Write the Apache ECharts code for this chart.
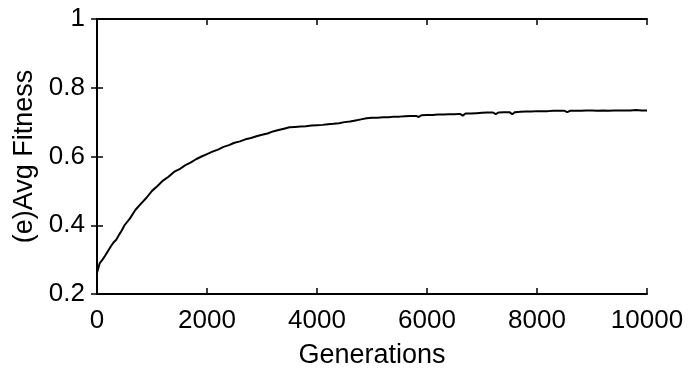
<!DOCTYPE html>
<html>
<head>
<meta charset="utf-8">
<script src="https://cdn.jsdelivr.net/npm/echarts@6/dist/echarts.min.js"></script>
<style>
  html, body { margin: 0; padding: 0; background: #fff; }
  #chart { width: 690px; height: 374px; }
</style>
</head>
<body>
<div id="chart"></div>
<script>
// generation vs. average fitness
const generations = [
  0, 50, 100, 150, 200, 250, 300, 350, 400, 450, 500, 600, 700, 800, 900, 1000,
  1100, 1200, 1300, 1400, 1500, 1600, 1700, 1800, 1900, 2000, 2100, 2200, 2300,
  2400, 2500, 2600, 2700, 2800, 2900, 3000, 3100, 3200, 3300, 3400, 3500, 3600,
  3700, 3800, 3900, 4000, 4100, 4200, 4300, 4400, 4500, 4600, 4700, 4800, 4900,
  5000, 5100, 5200, 5300, 5400, 5500, 5600, 5700, 5800, 5850, 5900, 6000, 6100,
  6200, 6300, 6400, 6500, 6600, 6650, 6700, 6800, 6900, 7000, 7100, 7200, 7250,
  7300, 7400, 7500, 7550, 7600, 7700, 7800, 7900, 8000, 8100, 8200, 8300, 8400,
  8500, 8550, 8600, 8700, 8800, 8900, 9000, 9100, 9200, 9300, 9400, 9500, 9600,
  9700, 9800, 9900, 10000
]
const avgFitness = [
  0.262, 0.290, 0.300, 0.312, 0.325, 0.338, 0.350, 0.358, 0.372, 0.385, 0.400,
  0.420, 0.445, 0.463, 0.480, 0.500, 0.514, 0.530, 0.541, 0.555, 0.563, 0.574,
  0.582, 0.592, 0.600, 0.607, 0.614, 0.620, 0.628, 0.633, 0.640, 0.644, 0.650,
  0.654, 0.659, 0.663, 0.667, 0.673, 0.677, 0.681, 0.685, 0.686, 0.687, 0.688,
  0.690, 0.691, 0.692, 0.694, 0.695, 0.697, 0.700, 0.702, 0.705, 0.708, 0.711,
  0.713, 0.713, 0.714, 0.714, 0.716, 0.716, 0.717, 0.718, 0.718, 0.715, 0.720,
  0.721, 0.721, 0.722, 0.722, 0.723, 0.723, 0.724, 0.719, 0.725, 0.725, 0.726,
  0.727, 0.728, 0.728, 0.723, 0.728, 0.729, 0.729, 0.723, 0.729, 0.730, 0.731,
  0.731, 0.732, 0.732, 0.732, 0.733, 0.733, 0.733, 0.729, 0.733, 0.733, 0.733,
  0.734, 0.734, 0.733, 0.734, 0.733, 0.734, 0.734, 0.734, 0.734, 0.735, 0.734,
  0.734
]
const xTicks = [0, 2000, 4000, 6000, 8000, 10000]
const yTicks = [0.2, 0.4, 0.6, 0.8, 1]

const font = 'Liberation Sans, Arial, sans-serif'
const boxLine = { show: true, lineStyle: { color: '#000', width: 2 } }
const inTick = { show: true, inside: true, length: 6, lineStyle: { color: '#000', width: 1.5 } }

const chart = echarts.init(document.getElementById('chart'))

chart.setOption({
  animation: false,
  grid: { left: 97, right: 43, top: 19, bottom: 75 },
  xAxis: [
    {
      type: 'value',
      min: xTicks[0],
      max: xTicks[xTicks.length - 1],
      interval: 2000,
      name: 'Generations',
      nameLocation: 'middle',
      nameGap: 48,
      nameTextStyle: { fontFamily: font, fontSize: 27, color: '#000' },
      axisLine: boxLine,
      axisTick: inTick,
      splitLine: { show: false },
      axisLabel: {
        margin: 14,
        fontFamily: font,
        fontSize: 26,
        color: '#000',
        formatter: (v) => String(v)
      }
    },
    {
      type: 'value',
      position: 'top',
      min: xTicks[0],
      max: xTicks[xTicks.length - 1],
      interval: 2000,
      axisLine: boxLine,
      axisTick: inTick,
      splitLine: { show: false },
      axisLabel: { show: false }
    }
  ],
  yAxis: [
    {
      type: 'value',
      min: yTicks[0],
      max: yTicks[yTicks.length - 1],
      interval: 0.2,
      name: '(e)Avg Fitness',
      nameLocation: 'middle',
      nameGap: 58,
      nameRotate: 90,
      nameTextStyle: { fontFamily: font, fontSize: 27, color: '#000' },
      axisLine: boxLine,
      axisTick: inTick,
      splitLine: { show: false },
      axisLabel: {
        margin: 12,
        fontFamily: font,
        fontSize: 26,
        color: '#000',
        formatter: (v) => String(parseFloat(v.toFixed(1)))
      }
    },
    {
      type: 'value',
      position: 'right',
      min: yTicks[0],
      max: yTicks[yTicks.length - 1],
      interval: 0.2,
      axisLine: boxLine,
      axisTick: inTick,
      splitLine: { show: false },
      axisLabel: { show: false }
    }
  ],
  series: [
    {
      type: 'line',
      data: generations.map((g, i) => [g, avgFitness[i]]),
      showSymbol: false,
      lineStyle: { color: '#000', width: 2 }
    }
  ]
})
</script>
</body>
</html>
